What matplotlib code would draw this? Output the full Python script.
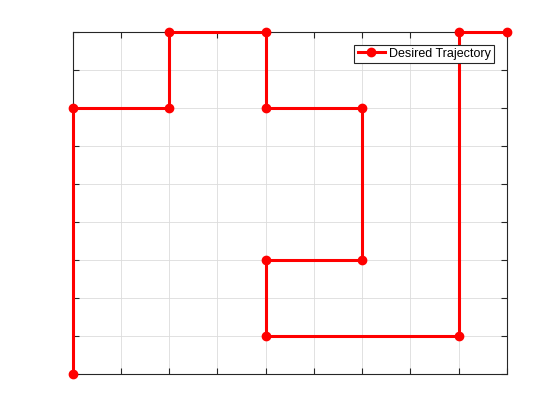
import matplotlib
matplotlib.use('Agg')
import matplotlib.pyplot as plt

# desired trajectory waypoints
traj_x = [0, 0, 2, 2, 4, 4, 6, 6, 4, 4, 8, 8, 9]
traj_y = [0, 7, 7, 9, 9, 7, 7, 3, 3, 1, 1, 9, 9]

plt.rcParams['font.family'] = ['Liberation Sans', 'DejaVu Sans']

fig = plt.figure(figsize=(5.6, 4.2), dpi=100)
ax = fig.add_axes([0.13, 0.11, 0.775, 0.815])

ax.plot(traj_x, traj_y, color='red', linewidth=2.2, marker='o',
        markersize=6, label='Desired Trajectory', clip_on=False, zorder=3)

ax.set_xlim(0, 9)
ax.set_ylim(0, 9)
ax.set_xticks(range(10))
ax.set_yticks(range(10))
ax.set_xticklabels([])
ax.set_yticklabels([])
ax.tick_params(direction='in', top=True, right=True, length=4, width=0.8, color='#262626')
ax.grid(True, color='#dcdcdc', linewidth=0.6)
ax.set_axisbelow(True)
for s in ax.spines.values():
    s.set_color('#262626')
    s.set_linewidth(0.8)

leg = ax.legend(loc='upper right', fontsize=9, fancybox=False, framealpha=1,
                edgecolor='#262626', borderpad=0.25, handlelength=2.2,
                handletextpad=0.3, borderaxespad=0,
                bbox_to_anchor=(0.97, 0.962))
leg.get_frame().set_linewidth(0.8)

fig.savefig('out.png', dpi=100)
